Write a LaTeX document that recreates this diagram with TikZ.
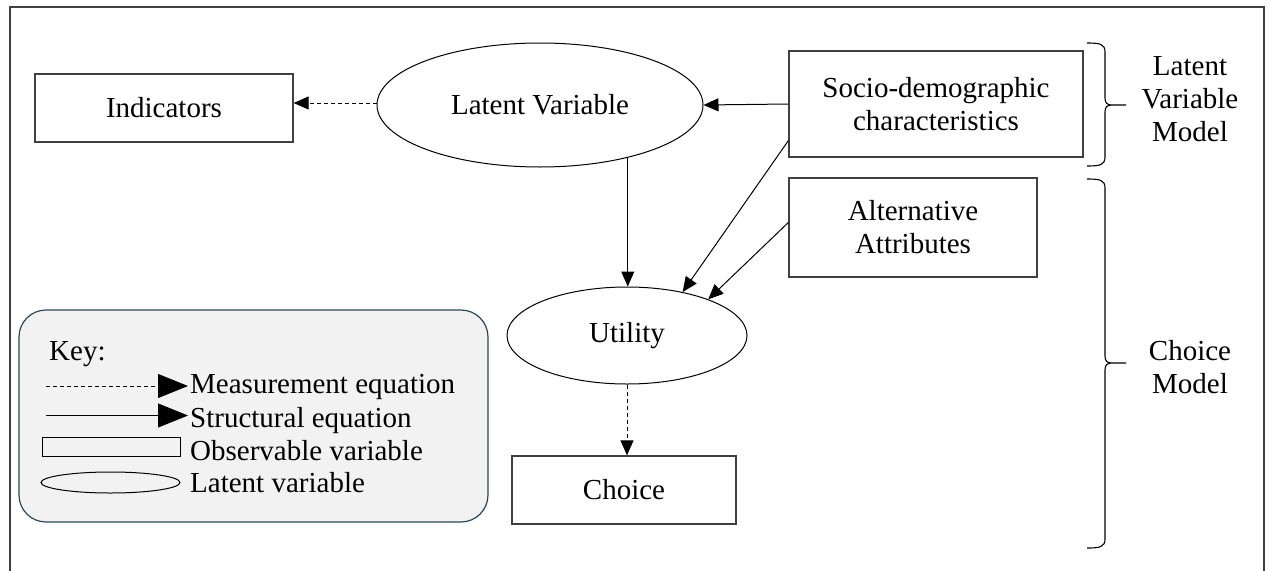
\documentclass[tikz,border=0pt]{standalone}
\usepackage{fontspec}
\setmainfont{Liberation Serif}
\usetikzlibrary{arrows.meta,shapes.geometric,calc}
\definecolor{boxgray}{HTML}{404040}
\definecolor{keyfill}{HTML}{F2F2F2}
\definecolor{keyedge}{HTML}{2E4756}
\begin{document}
\begin{tikzpicture}[x=1pt,y=-1pt,
  every node/.style={font=\fontsize{29}{33}\selectfont, text=black},
  obsbox/.style={draw=boxgray, line width=1.3pt, rectangle, inner sep=0pt, align=center},
  latbox/.style={draw=black, line width=1pt, ellipse, inner sep=0pt, align=center},
  solidarrow/.style={draw=black, line width=1pt, -{Triangle[length=15pt,width=13pt]}},
  dasharrow/.style={solidarrow, dash pattern=on 4pt off 3pt},
  keysolid/.style={draw=black, line width=1pt, -{Triangle[length=30pt,width=24pt]}},
  keydash/.style={keysolid, dash pattern=on 4pt off 3pt},
  bracepath/.style={draw=black, line width=1.1pt},
  keytext/.style={anchor=base west, inner sep=0pt},
]
\useasboundingbox (0,0) rectangle (1268,570);
\clip (0,0) rectangle (1268,570);
% outer frame
\draw[boxgray, line width=1.5pt] (10,7) rectangle (1264,620);

% main nodes
\node[obsbox, minimum width=258pt, minimum height=68pt] (ind) at (164,108) {Indicators};
\node[latbox, minimum width=326pt, minimum height=124pt] (lv) at (540,105) {Latent Variable};
\node[obsbox, minimum width=294pt, minimum height=106pt] (socio) at (936,104) {Socio-demographic\\characteristics};
\node[obsbox, minimum width=248pt, minimum height=99pt] (alt) at (913,227.5) {Alternative\\Attributes};
\node[latbox, minimum width=240pt, minimum height=97pt] (util) at (627,335.5) {Utility};
\node[obsbox, minimum width=224pt, minimum height=68pt] (choice) at (624,490) {Choice};

% connectors
\draw[dasharrow] (lv.west |- 0,103) -- (ind.east |- 0,103);
\draw[solidarrow] (socio.west) -- (lv.east);
\draw[solidarrow] (lv.-31) -- (lv.-31 |- util.north);
\draw[solidarrow] ($(socio.south west)+(0,-17)$) -- (util.38);
\draw[solidarrow] ($(alt.west)+(0,-5)$) -- (util.24);
\draw[dasharrow] (util.south) -- (util.south |- choice.north);

% braces
\draw[bracepath] (1087,43) .. controls (1100,43) and (1105,44) .. (1105,52) -- (1105,98)
  .. controls (1105,103) and (1107,105) .. (1112,105) -- (1126,105) -- (1112,105)
  .. controls (1107,105) and (1105,107) .. (1105,112) -- (1105,157)
  .. controls (1105,165) and (1100,166) .. (1087,166);
\draw[bracepath] (1087,179) .. controls (1100,179) and (1105,180) .. (1105,188) -- (1105,356)
  .. controls (1105,361) and (1107,363) .. (1112,363) -- (1126,363) -- (1112,363)
  .. controls (1107,363) and (1105,365) .. (1105,370) -- (1105,539)
  .. controls (1105,547) and (1100,548) .. (1087,548);
\node[align=center, inner sep=0pt] (lvm) at (1190,99) {Latent\\Variable\\Model};
\node[align=center, inner sep=0pt] (cm) at (1190,367.5) {Choice\\Model};

% key
\draw[draw=keyedge, fill=keyfill, line width=1.2pt, rounded corners=27pt] (19,310) rectangle (488,522);
\node[keytext] (keylab) at (49,360) {Key:};
\coordinate (m1) at (46,386);
\coordinate (m2) at (188,386);
\draw[keydash] (m1) -- (m2);
\node[keytext] (mt) at (190,393) {Measurement equation};
\coordinate (s1) at (46,415.5);
\coordinate (s2) at (188,415.5);
\draw[keysolid] (s1) -- (s2);
\node[keytext] (st) at (190,427) {Structural equation};
\node[draw=black, line width=1pt, rectangle, inner sep=0pt, minimum width=138pt, minimum height=19pt] (kr) at (111,446.5) {};
\node[keytext] (ot) at (190,460) {Observable variable};
\node[draw=black, line width=1pt, ellipse, inner sep=0pt, minimum width=139pt, minimum height=21pt] (ke) at (110.5,482.5) {};
\node[keytext] (lt) at (190,492) {Latent variable};
\end{tikzpicture}
\end{document}
